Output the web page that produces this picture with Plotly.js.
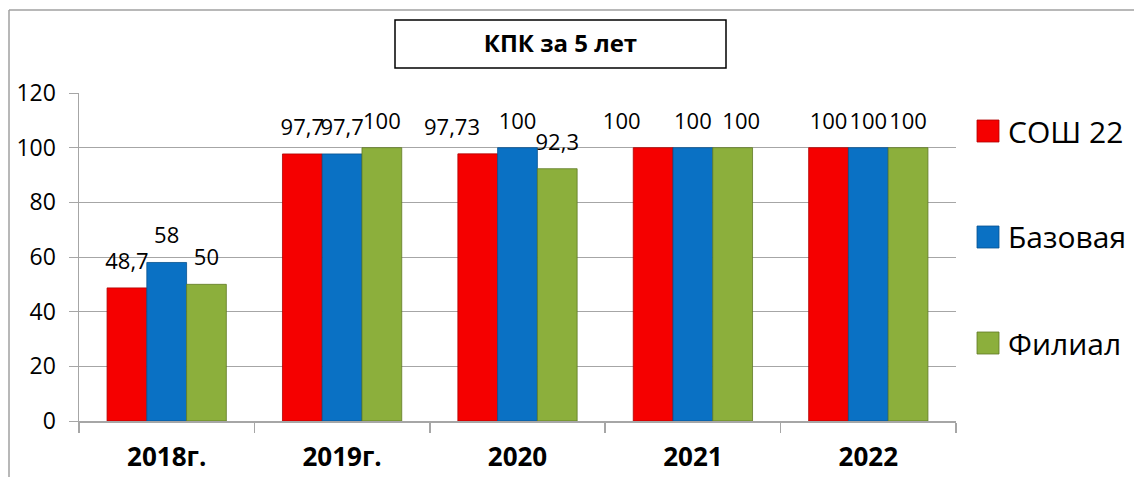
<!DOCTYPE html>
<html>
<head>
<meta charset="utf-8">
<script src="https://cdn.plot.ly/plotly-3.0.1.min.js"></script>
<style>
  html, body { margin: 0; padding: 0; background: #fff; }
  #chart { width: 1134px; height: 477px; }
</style>
</head>
<body>
<div id="chart"></div>
<script>
const categories = ['2018г.', '2019г.', '2020', '2021', '2022'];
const seriesNames = ['СОШ 22', 'Базовая', 'Филиал'];
const soshValues = [48.7, 97.7, 97.73, 100, 100];
const bazValues = [58, 97.7, 100, 100, 100];
const filValues = [50, 100, 92.3, 100, 100];
const seriesColors = ['#F50000', '#0A71C4', '#8CAF3C'];
const edgeColors = ['#B00000', '#06528F', '#5F7A24'];
const yTicks = [0, 20, 40, 60, 80, 100, 120];
const titleText = 'КПК за 5 лет';

const FONT = 'Open Sans, Noto Sans, DejaVu Sans, sans-serif';
const allValues = [soshValues, bazValues, filValues];
const fmt = v => String(v).replace('.', ',');

// label nudges as placed by hand in the original (series index -> category index -> NBSP padding;
// positive = pad on the left (moves right), negative = pad on the right (moves left))
const labelNudge = { 0: { 2: -9, 3: -11 }, 2: { 3: 3 } };
const NB = '\u00A0';
function labelText(si, ci, v) {
  const n = (labelNudge[si] && labelNudge[si][ci]) || 0;
  const t = fmt(v);
  return n > 0 ? NB.repeat(n) + t : n < 0 ? t + NB.repeat(-n) : t;
}

const traces = [];
allValues.forEach((vals, i) => {
  traces.push({
    type: 'bar',
    name: seriesNames[i],
    x: categories,
    y: vals,
    marker: { color: seriesColors[i], line: { color: edgeColors[i], width: 0.8 } },
    showlegend: false,
    hoverinfo: 'skip'
  });
});
allValues.forEach((vals, i) => {
  traces.push({
    type: 'scatter',
    mode: 'markers+text',
    x: categories,
    y: vals,
    text: vals.map((v, j) => labelText(i, j, v)),
    textposition: 'top center',
    textfont: { family: FONT, size: 22, color: '#000' },
    marker: { size: 20, opacity: 0 },
    cliponaxis: false,
    showlegend: false,
    hoverinfo: 'skip'
  });
});

// plot area geometry helpers (paper coords)
const L = 79, R = 956, T = 93, B = 421, W = 1134, H = 477;
const px = x => (x - L) / (R - L);
const py = y => (B - y) / (B - T);

const shapes = [
  { type: 'line', xref: 'paper', yref: 'paper', x0: px(9), x1: px(1200), y0: py(10), y1: py(10), line: { color: '#A0A0A0', width: 1.5 } },
  { type: 'line', xref: 'paper', yref: 'paper', x0: px(9), x1: px(9), y0: py(10), y1: py(500), line: { color: '#A0A0A0', width: 1.5 } },
  { type: 'rect', xref: 'paper', yref: 'paper', x0: px(395), x1: px(726), y0: py(68), y1: py(20), line: { color: '#000', width: 1.5 }, fillcolor: 'rgba(0,0,0,0)' }
];
const annotations = [];
const legendY = [131, 237, 343];
seriesNames.forEach((n, i) => {
  shapes.push({ type: 'rect', xref: 'paper', yref: 'paper', x0: px(977), x1: px(999), y0: py(legendY[i] + 11), y1: py(legendY[i] - 11),
    fillcolor: seriesColors[i], line: { color: edgeColors[i], width: 0.8 } });
  annotations.push({ xref: 'paper', yref: 'paper', x: px(1006), y: py(legendY[i]), xanchor: 'left', yanchor: 'middle',
    text: n, showarrow: false, font: { family: FONT, size: 30, color: '#000' } });
});

const layout = {
  width: W, height: H,
  margin: { l: L, r: W - R, t: T, b: H - B, pad: 0 },
  paper_bgcolor: '#fff', plot_bgcolor: '#fff',
  font: { family: FONT, color: '#000' },
  title: { text: '<b>' + titleText + '</b>', x: 560.5 / W, xref: 'container', y: 1 - 44 / H, yref: 'container',
    xanchor: 'center', yanchor: 'middle', font: { family: FONT, size: 24, color: '#000' } },
  barmode: 'group', bargap: 0.32, bargroupgap: 0,
  scattermode: 'group', scattergap: 0.32,
  showlegend: false,
  hovermode: false,
  xaxis: {
    type: 'category', showgrid: false, zeroline: false,
    showline: true, linecolor: '#A6A6A6', linewidth: 1.5,
    ticks: 'outside', tickson: 'boundaries', ticklen: 10, tickcolor: '#A6A6A6', tickwidth: 1.5,
    tickfont: { family: FONT, size: 26, color: '#000', weight: 'bold' },
    ticklabelstandoff: 12
  },
  yaxis: {
    range: [0, 120], tickvals: yTicks, ticktext: yTicks.map(String),
    showgrid: true, gridcolor: '#A6A6A6', gridwidth: 1,
    zeroline: false, showline: true, linecolor: '#A6A6A6', linewidth: 1.5,
    ticks: 'outside', ticklen: 9, tickcolor: '#A6A6A6', tickwidth: 1,
    tickfont: { family: FONT, size: 23, color: '#000' },
    ticklabelstandoff: 8
  },
  shapes: shapes,
  annotations: annotations
};

Plotly.newPlot('chart', traces, layout, { staticPlot: true, displayModeBar: false });
</script>
</body>
</html>
